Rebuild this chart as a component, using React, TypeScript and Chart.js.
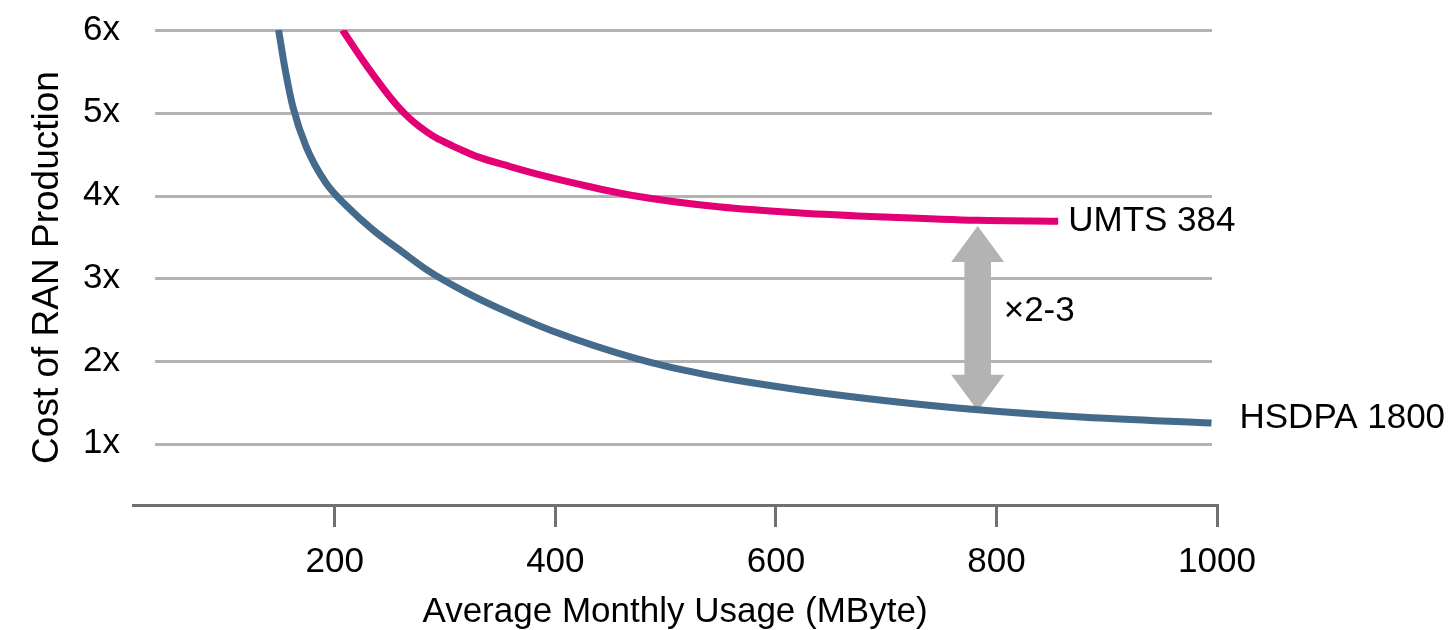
import React, { useEffect, useRef } from "react";
import { Chart, registerables } from "chart.js";

Chart.register(...registerables);

// ---- data ----
const SERIES_NAMES = ["UMTS 384", "HSDPA 1800"];
const UMTS_X = [207, 223, 238, 250, 259, 268, 277, 289, 302, 315, 329, 359, 389, 420, 470, 550, 622, 700, 783, 856];
const UMTS_Y = [6.0, 5.68, 5.4, 5.19, 5.05, 4.93, 4.83, 4.72, 4.63, 4.55, 4.47, 4.35, 4.24, 4.14, 4.0, 3.86, 3.79, 3.74, 3.7, 3.69];
const HSDPA_X = [149, 155, 162, 174, 192, 211, 235, 262, 286, 319, 350, 398, 476, 520, 550, 622, 700, 783, 880, 995];
const HSDPA_Y = [6.0, 5.52, 5.07, 4.59, 4.15, 3.87, 3.58, 3.31, 3.08, 2.83, 2.63, 2.36, 2.02, 1.88, 1.8, 1.65, 1.52, 1.41, 1.32, 1.25];
const X_TICKS = [200, 400, 600, 800, 1000];
const Y_TICKS = [1, 2, 3, 4, 5, 6];
const X_MIN = 17;
const X_MAX = 1000;
const Y_MIN = 0.26;
const Y_MAX = 6;
const ARROW_X = 783;
const ARROW_TOP = 3.63;
const ARROW_BOTTOM = 1.4;
const ARROW_LABEL = "×2-3";
const X_TITLE = "Average Monthly Usage (MByte)";
const Y_TITLE = "Cost of RAN Production";

const FONT = '"Liberation Sans", Arial, sans-serif';
const GRID = "#b3b3b3";
const AXIS = "#707070";

const decor = {
  id: "decor",
  beforeDatasetsDraw(chart: any) {
    const { ctx, chartArea, scales } = chart;
    const x = scales.x;
    const y = scales.y;
    ctx.save();
    ctx.strokeStyle = GRID;
    ctx.lineWidth = 3;
    for (const v of Y_TICKS) {
      const py = Math.round(y.getPixelForValue(v)) + 0.5;
      ctx.beginPath();
      ctx.moveTo(chartArea.left + 22, py);
      ctx.lineTo(chartArea.right - 5, py);
      ctx.stroke();
    }
    // double arrow
    const ax = x.getPixelForValue(ARROW_X);
    const top = y.getPixelForValue(ARROW_TOP);
    const bot = y.getPixelForValue(ARROW_BOTTOM);
    const hw = 26.5, hl = 36, sw = 13.3;
    ctx.fillStyle = GRID;
    ctx.beginPath();
    ctx.moveTo(ax, top);
    ctx.lineTo(ax + hw, top + hl);
    ctx.lineTo(ax + sw, top + hl);
    ctx.lineTo(ax + sw, bot - hl);
    ctx.lineTo(ax + hw, bot - hl);
    ctx.lineTo(ax, bot);
    ctx.lineTo(ax - hw, bot - hl);
    ctx.lineTo(ax - sw, bot - hl);
    ctx.lineTo(ax - sw, top + hl);
    ctx.lineTo(ax - hw, top + hl);
    ctx.closePath();
    ctx.fill();
    ctx.restore();
  },
  afterDatasetsDraw(chart: any) {
    const { ctx, scales } = chart;
    const x = scales.x;
    const y = scales.y;
    ctx.save();
    ctx.fillStyle = "#000";
    ctx.font = `35px ${FONT}`;
    ctx.textBaseline = "middle";
    ctx.textAlign = "left";
    const ax = x.getPixelForValue(ARROW_X);
    const top = y.getPixelForValue(ARROW_TOP);
    const bot = y.getPixelForValue(ARROW_BOTTOM);
    ctx.fillText(ARROW_LABEL, ax + 26, (top + bot) / 2 - 7);
    chart.data.datasets.forEach((ds: any, i: number) => {
      const meta = chart.getDatasetMeta(i);
      const last = meta.data[meta.data.length - 1];
      const off = i === 0 ? [10, 0] : [28, -5];
      ctx.fillText(ds.label, last.x + off[0], last.y + off[1]);
    });
    ctx.restore();
  },
};

export default function App() {
  const ref = useRef<HTMLCanvasElement | null>(null);

  useEffect(() => {
    if (!ref.current) return;
    const chart = new Chart(ref.current, {
      type: "scatter",
      data: {
        datasets: [
          {
            label: SERIES_NAMES[0],
            data: UMTS_X.map((v, i) => ({ x: v, y: UMTS_Y[i] })),
            showLine: true,
            borderColor: "#e20074",
            backgroundColor: "#e20074",
            borderWidth: 7,
            pointRadius: 0,
            cubicInterpolationMode: "monotone",
            borderCapStyle: "butt",
            borderJoinStyle: "round",
            fill: false,
          },
          {
            label: SERIES_NAMES[1],
            data: HSDPA_X.map((v, i) => ({ x: v, y: HSDPA_Y[i] })),
            showLine: true,
            borderColor: "#446a8c",
            backgroundColor: "#446a8c",
            borderWidth: 7,
            pointRadius: 0,
            cubicInterpolationMode: "monotone",
            borderCapStyle: "butt",
            borderJoinStyle: "round",
            fill: false,
          },
        ],
      },
      options: {
        animation: false,
        responsive: true,
        maintainAspectRatio: false,
        events: [],
        layout: { padding: { left: 0, right: 234, top: 30, bottom: 0 } },
        plugins: { legend: { display: false }, tooltip: { enabled: false } },
        scales: {
          x: {
            type: "linear",
            min: X_MIN,
            max: X_MAX,
            afterBuildTicks: (s: any) => {
              s.ticks = X_TICKS.map((v) => ({ value: v }));
            },
            afterFit: (s: any) => {
              s.height = 125;
            },
            grid: {
              display: true,
              drawOnChartArea: false,
              drawTicks: true,
              tickLength: 22,
              color: AXIS,
              lineWidth: 3,
            },
            border: { display: true, color: AXIS, width: 3 },
            ticks: {
              color: "#000",
              font: { family: FONT, size: 35, lineHeight: 1.2 },
              padding: 14,
              maxRotation: 0,
              autoSkip: false,
              callback: (v: any) => String(v),
            },
            title: {
              display: true,
              text: X_TITLE,
              color: "#000",
              font: { family: FONT, size: 35, lineHeight: 1 },
              padding: 0,
            },
          },
          y: {
            type: "linear",
            min: Y_MIN,
            max: Y_MAX,
            afterBuildTicks: (s: any) => {
              s.ticks = Y_TICKS.map((v) => ({ value: v }));
            },
            afterFit: (s: any) => {
              s.width = 133;
            },
            grid: { display: false, drawTicks: false },
            border: { display: false },
            ticks: {
              color: "#000",
              font: { family: FONT, size: 35, lineHeight: 0.8 },
              padding: 13,
              callback: (v: any) => v + "x",
            },
            title: {
              display: true,
              text: Y_TITLE,
              color: "#000",
              font: { family: FONT, size: 37, lineHeight: 1.2 },
              padding: { top: 26, bottom: 0 },
            },
          },
        },
      } as any,
      plugins: [decor],
    });
    return () => chart.destroy();
  }, []);

  return (
    <div style={{ position: "fixed", left: 0, top: 0, width: 1451, height: 630 }}>
      <canvas ref={ref} />
    </div>
  );
}
